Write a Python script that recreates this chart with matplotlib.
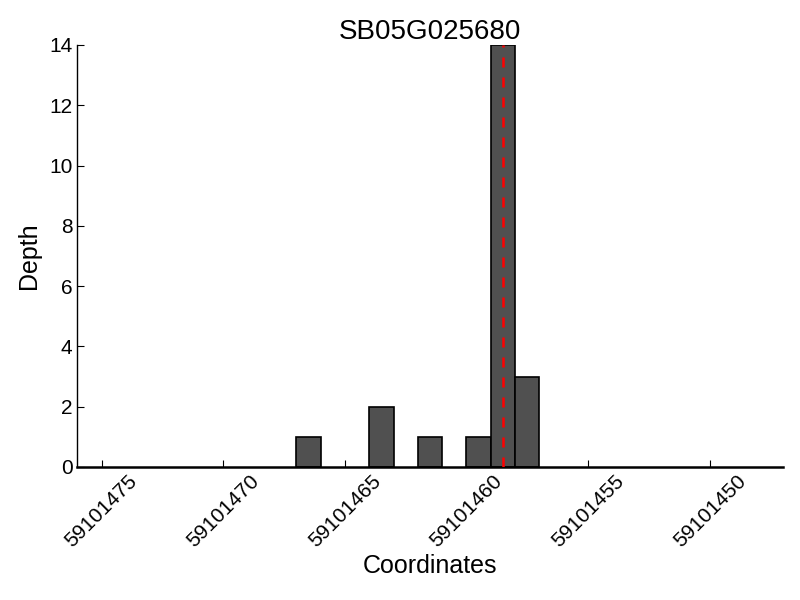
import matplotlib
matplotlib.use('Agg')
import matplotlib.pyplot as plt

plt.rcParams['font.family'] = ['Liberation Sans', 'DejaVu Sans']

gene = 'SB05G025680'
positions = [59101466, 59101463, 59101461, 59101459, 59101458, 59101457]
depths = [1, 2, 1, 1, 14, 3]
site = 59101458.5
tick_positions = [59101475, 59101470, 59101465, 59101460, 59101455, 59101450]

fig = plt.figure(figsize=(8, 6), dpi=100)
ax = fig.add_axes([0.0966, 0.2217, 0.8818, 0.7033])

ax.bar(positions, depths, width=1, align='edge', color='#505050', edgecolor='black', linewidth=1.2, zorder=2)
ax.axvline(site, color='red', linestyle=(0, (4, 4)), linewidth=1.8, zorder=3)

ax.set_xlim(59101476, 59101447)
ax.set_ylim(0, 14)
ax.set_xticks(tick_positions)
ax.set_xticklabels([str(t) for t in tick_positions], rotation=45, ha='center', fontsize=15)
ax.set_yticks(range(0, 15, 2))
ax.tick_params(axis='y', labelsize=15)
ax.tick_params(direction='in', length=5, width=0.8)

ax.spines['top'].set_visible(False)
ax.spines['right'].set_visible(False)
ax.spines['bottom'].set_linewidth(1.8)
ax.spines['left'].set_linewidth(1.0)

ax.set_title(gene, fontsize=20, pad=2)
ax.set_xlabel('Coordinates', fontsize=18, labelpad=2)
ax.set_ylabel('Depth', fontsize=18, labelpad=6)

fig.savefig('out.png', dpi=100)
